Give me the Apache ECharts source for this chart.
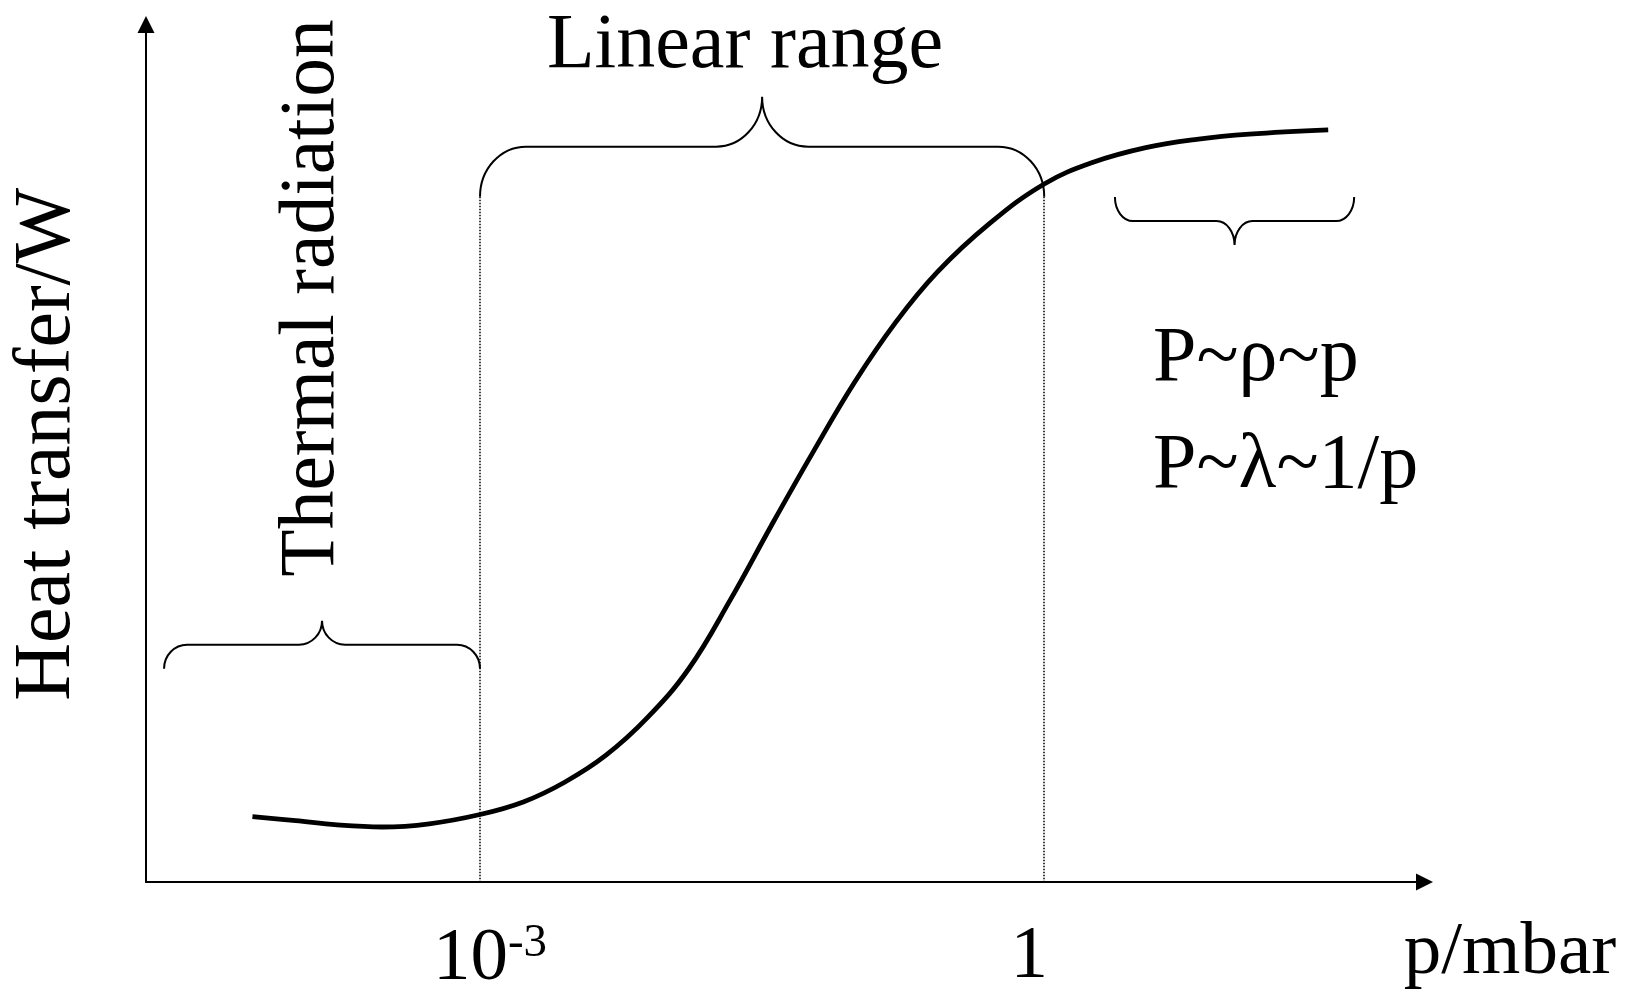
<!DOCTYPE html>
<html>
<head>
<meta charset="utf-8">
<script src="https://cdn.jsdelivr.net/npm/echarts@6/dist/echarts.min.js"></script>
<style>
  html, body { margin: 0; padding: 0; background: #fff; }
  #main { width: 1631px; height: 997px; }
</style>
</head>
<body>
<div id="main"></div>
<script>
var FONT = '"Liberation Serif", "Times New Roman", serif';

// x = log10(p / mbar), y = heat transfer (arbitrary units)
var logP = [-4.21, -3.98, -3.76, -3.52, -3.27, -3.0, -2.77, -2.55, -2.33, -2.11, -1.89, -1.67,
  -1.45, -1.23, -1.01, -0.79, -0.57, -0.29, 0.0, 0.26, 0.54, 0.81, 1.09, 1.51];
var heat = [7.55, 7.08, 6.59, 6.35, 6.72, 7.79, 9.24, 11.52, 14.64, 18.97, 24.62, 32.54,
  41.19, 49.6, 57.64, 64.61, 70.38, 76.03, 80.59, 83.1, 84.79, 85.75, 86.35, 86.84];

// tick positions (log10 p) and their labels
var tickValues = [-3, 0];
var tickLabels = ['{p|}{a|10}{s|-3}', '{b|1}{q|}'];

// braces: [from log p, to log p, level]
var braceSpans = [
  [-4.68, -3.0, 27.4],   // thermal radiation
  [-3.0, 0.0, 84.9],     // linear range
  [0.376, 1.648, 76.3]   // P~p region
];
// dotted guides at the ends of the linear range
var guideX = [-3, 0];
var guideTop = 79.1;

// brace look: dir 1 = tip up, -1 = tip down
var braceLook = [
  { dir: 1, rx: 23, ry: 24 },
  { dir: 1, rx: 46, ry: 50 },
  { dir: -1, rx: 18, ry: 24 }
];

var curve = logP.map(function (x, i) { return [x, heat[i]]; });

var chart = echarts.init(document.getElementById('main'), null, { renderer: 'canvas' });

function renderBrace(params, api) {
  var a = api.coord([api.value(0), api.value(2)]);
  var b = api.coord([api.value(1), api.value(2)]);
  var look = braceLook[params.dataIndex];
  var k = 0.5523;
  var X1 = a[0], X2 = b[0], Y = a[1], M = (X1 + X2) / 2;
  var rx = look.rx, ry = look.ry * look.dir;
  var d = [
    'M', X1, Y + ry,
    'C', X1, Y + ry - k * ry, X1 + rx - k * rx, Y, X1 + rx, Y,
    'L', M - rx, Y,
    'C', M - rx + k * rx, Y, M, Y - ry + k * ry, M, Y - ry,
    'C', M, Y - ry + k * ry, M + rx - k * rx, Y, M + rx, Y,
    'L', X2 - rx, Y,
    'C', X2 - rx + k * rx, Y, X2, Y + ry - k * ry, X2, Y + ry
  ].join(' ');
  return {
    type: 'path',
    shape: { pathData: d },
    style: { fill: 'none', stroke: '#000', lineWidth: 2 }
  };
}

var option = {
  animation: false,
  backgroundColor: '#fff',
  grid: { left: 142, right: 206.5, top: 24.5, bottom: 115, containLabel: false },
  xAxis: {
    type: 'value',
    min: -4.776,
    max: 2.022,
    axisLine: {
      show: true,
      onZero: false,
      symbol: ['none', 'triangle'],
      symbolSize: [17, 17],
      lineStyle: { color: '#000', width: 2 }
    },
    axisTick: { show: false },
    splitLine: { show: false },
    axisLabel: {
      customValues: tickValues,
      margin: 38,
      formatter: function (v) {
        return tickLabels[tickValues.indexOf(v)];
      },
      rich: {
        p: { width: 20, fontSize: 75, fontFamily: FONT },
        a: { fontSize: 75, fontFamily: FONT, color: '#000', lineHeight: 75 },
        s: { fontSize: 47, fontFamily: FONT, color: '#000', padding: [0, 0, 32, 0] },
        b: { fontSize: 75, fontFamily: FONT, color: '#000', lineHeight: 75 },
        q: { width: 30, fontSize: 75, fontFamily: FONT }
      }
    }
  },
  yAxis: {
    type: 'value',
    min: 0,
    max: 99,
    name: 'Heat transfer/W',
    nameLocation: 'middle',
    nameRotate: 90,
    nameGap: 58,
    nameTextStyle: { fontSize: 80, fontFamily: FONT, color: '#000', padding: [0, 0, 0, 18] },
    axisLine: {
      show: true,
      onZero: false,
      symbol: ['none', 'triangle'],
      symbolSize: [17, 17],
      lineStyle: { color: '#000', width: 2 }
    },
    axisTick: { show: false },
    axisLabel: { show: false },
    splitLine: { show: false }
  },
  series: [
    {
      type: 'line',
      data: curve,
      smooth: 0.4,
      showSymbol: false,
      silent: true,
      lineStyle: { color: '#000', width: 4.8 },
      markLine: {
        silent: true,
        symbol: 'none',
        label: { show: false },
        lineStyle: { color: '#000', width: 1.5, type: 'dotted' },
        data: guideX.map(function (x) {
          return [{ coord: [x, guideTop] }, { coord: [x, 0] }];
        })
      }
    },
    {
      type: 'custom',
      renderItem: renderBrace,
      data: braceSpans,
      encode: { x: [0, 1], y: 2 },
      silent: true
    }
  ],
  graphic: [
    {
      type: 'text', x: 745, y: 47,
      style: { text: 'Linear range', font: '78px ' + FONT, fill: '#000', align: 'center', verticalAlign: 'middle' }
    },
    {
      type: 'text', x: 313, y: 298, rotation: Math.PI / 2,
      style: { text: 'Thermal radiation', font: '77.5px ' + FONT, fill: '#000', align: 'center', verticalAlign: 'middle' }
    },
    {
      type: 'text', x: 1153, y: 360,
      style: { text: 'P~ρ~p', font: '78px ' + FONT, fill: '#000', align: 'left', verticalAlign: 'middle' }
    },
    {
      type: 'text', x: 1153, y: 467,
      style: { text: 'P~λ~1/p', font: '78px ' + FONT, fill: '#000', align: 'left', verticalAlign: 'middle' }
    },
    {
      type: 'text', x: 1510, y: 953,
      style: { text: 'p/mbar', font: '75px ' + FONT, fill: '#000', align: 'center', verticalAlign: 'middle' }
    }
  ]
};

chart.setOption(option);
</script>
</body>
</html>
